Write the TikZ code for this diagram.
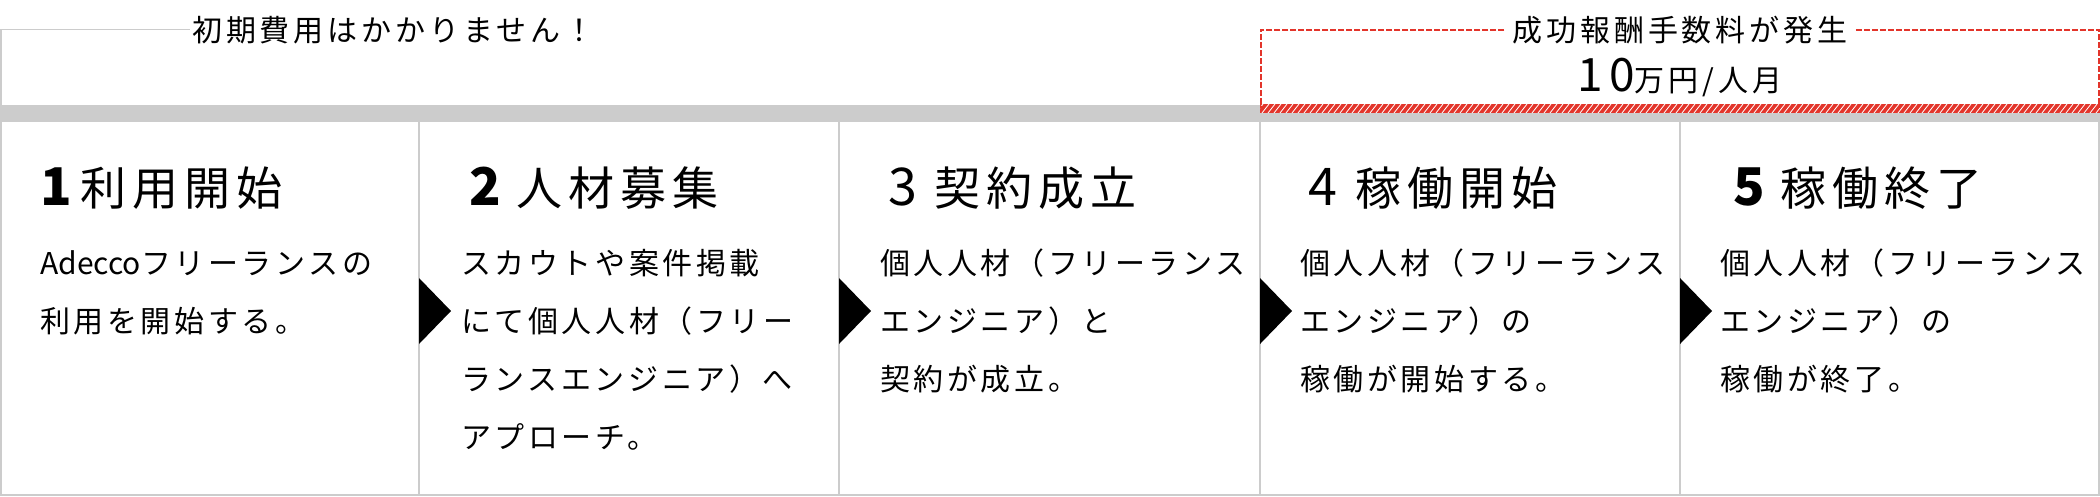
\documentclass[tikz,border=0pt]{standalone}
\usepackage{fontspec}
\newfontfamily\jp[LetterSpace=13]{Noto Sans CJK JP}
\newfontfamily\jpbody[LetterSpace=12]{Noto Sans CJK JP}
\newfontfamily\jpnum{Noto Sans CJK JP}
\usetikzlibrary{positioning}
\begin{document}
\begin{tikzpicture}[line cap=butt,line join=miter,x=1pt,y=-1pt,
  frame/.style={draw=grayline,line width=2pt},
  reddash/.style={draw=redline,line width=2pt,dash pattern=on 6pt off 2pt},
  lbl/.style={font=\jp\fontsize{30}{30}\selectfont,inner xsep=8pt,inner ysep=0pt},
  ttl/.style={font=\jp\fontsize{46}{46}\selectfont,anchor=base west,inner sep=0pt},
  num/.style={font=\jpnum\fontsize{52}{52}\selectfont,anchor=base west,inner sep=0pt},
  body/.style={font=\jpbody\fontsize{30}{58}\selectfont,anchor=base west,align=left,inner sep=0pt},
  tri/.style={fill=black}]
\definecolor{grayline}{HTML}{CCCCCC}
\definecolor{redline}{HTML}{E3352B}
\useasboundingbox (0,0) rectangle (2100,496);
% bar and hatched band
\fill[grayline] (0,105) rectangle (2100,121);
\begin{scope}
\clip (1260,104) rectangle (2100,113);
\fill[redline] (1260,104) rectangle (2100,113);
\foreach \s in {1250,1256,...,2110}
  \draw[white,line width=0.8pt] (\s,113) -- (\s+7,104);
\end{scope}
% labels above
\node[lbl,anchor=base west,inner xsep=2pt] (free) at (190,41) {初期費用はかかりません！};
\draw[grayline,line width=1.5pt] (1,105) |- (free.west);
\node[lbl,anchor=base] (fee) at (1680,41) {成功報酬手数料が発生};
\draw[reddash] (fee.west) -| (1261,108);
\draw[reddash] (fee.east) -| (2099,108);
\node[font=\jp\fontsize{30}{30}\selectfont,anchor=base,inner sep=0pt] (price) at (1680,91) {{\fontsize{46}{46}\selectfont 10}万円/人月};
% columns
\draw[frame] (1,121) rectangle (2099,495);
\draw[frame] (419,121) -- (419,495);
\draw[frame] (839,121) -- (839,495);
\draw[frame] (1260,121) -- (1260,495);
\draw[frame] (1680,121) -- (1680,495);
\fill[tri] (419,278) -- (451,311) -- (419,344) -- cycle;
\fill[tri] (839,278) -- (871,311) -- (839,344) -- cycle;
\fill[tri] (1260,278) -- (1292,311) -- (1260,344) -- cycle;
\fill[tri] (1680,278) -- (1712,311) -- (1680,344) -- cycle;
% step 1 (body nodes sit on their last baseline)
\node[num] (n1) at (40,205) {\bfseries 1};
\node[ttl] (t1) at (80,205) {利用開始};
\node[body] (b1) at (40,332) {{\jpnum Adecco}フリーランスの\\利用を開始する。};
% step 2
\node[num] (n2) at (469,205) {\bfseries 2};
\node[ttl] (t2) at (516,205) {人材募集};
\node[body] (b2) at (461,448) {スカウトや案件掲載\\にて個人人材（フリー\\ランスエンジニア）へ\\アプローチ。};
% step 3
\node[num] (n3) at (888,205) {3};
\node[ttl] (t3) at (934,205) {契約成立};
\node[body] (b3) at (880,390) {個人人材（フリーランス\\エンジニア）と\\契約が成立。};
% step 4
\node[num] (n4) at (1308,205) {4};
\node[ttl] (t4) at (1355,205) {稼働開始};
\node[body] (b4) at (1300,390) {個人人材（フリーランス\\エンジニア）の\\稼働が開始する。};
% step 5
\node[num] (n5) at (1733,205) {\bfseries 5};
\node[ttl] (t5) at (1780,205) {稼働終了};
\node[body] (b5) at (1720,390) {個人人材（フリーランス\\エンジニア）の\\稼働が終了。};
\end{tikzpicture}
\end{document}
